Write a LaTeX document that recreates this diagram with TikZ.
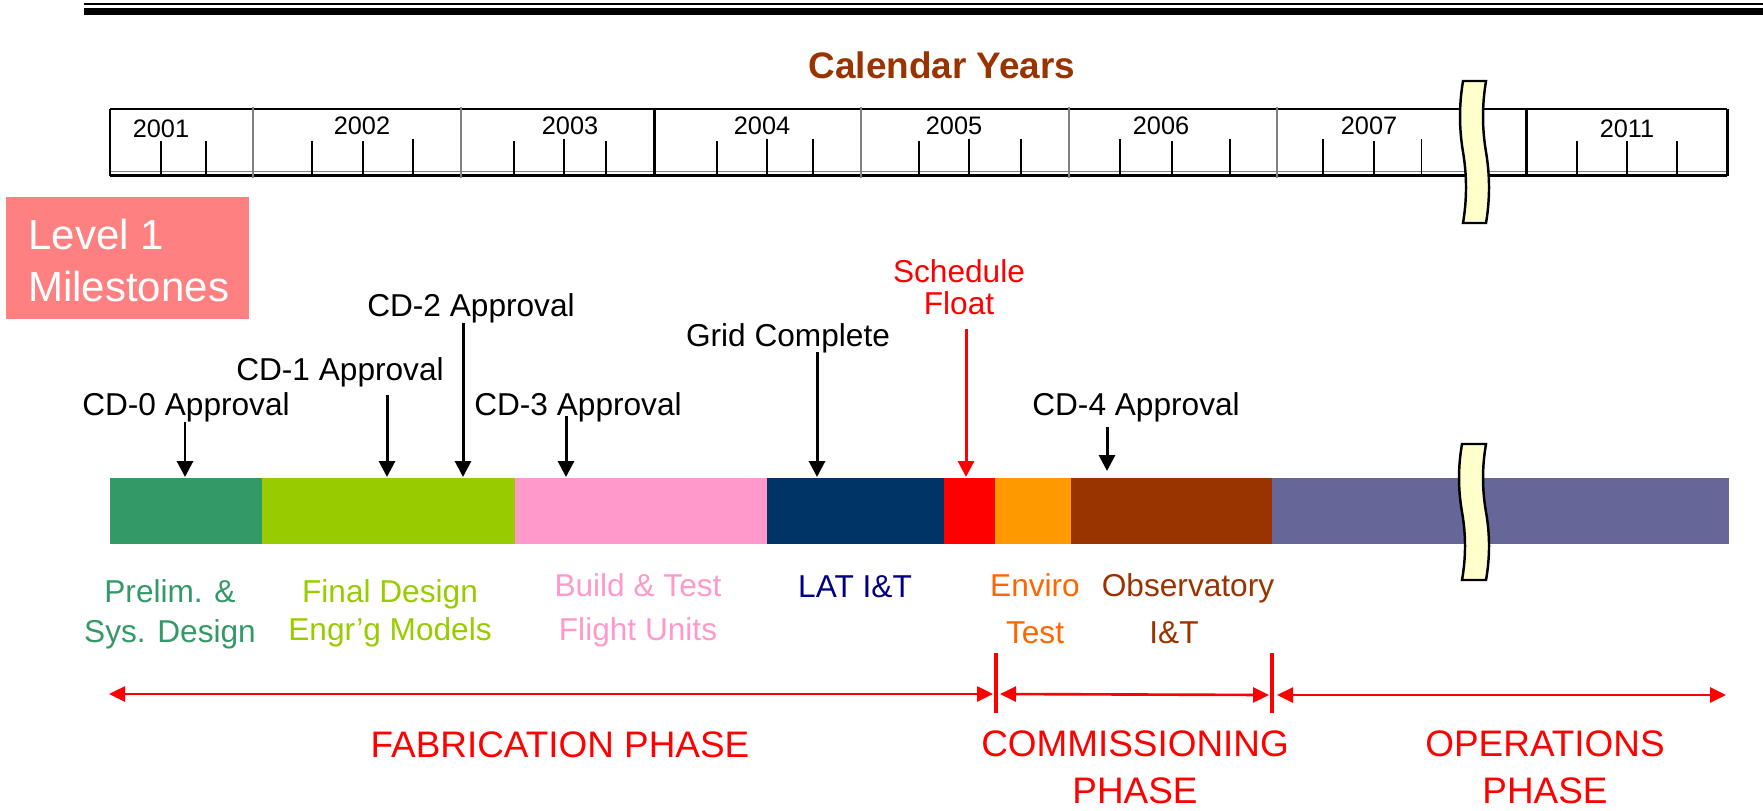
\documentclass[tikz,border=0pt]{standalone}
\usepackage{fontspec}
\setmainfont{Liberation Sans}
\usetikzlibrary{arrows.meta,calc}

\definecolor{yearbrown}{HTML}{993300}
\definecolor{prelimgreen}{HTML}{339966}
\definecolor{finallime}{HTML}{99CC00}
\definecolor{buildpink}{HTML}{FF99CC}
\definecolor{latnavy}{HTML}{003366}
\definecolor{latblue}{HTML}{000080}
\definecolor{enviroorange}{HTML}{FF9900}
\definecolor{envirotext}{HTML}{FF6600}
\definecolor{opspurple}{HTML}{666699}
\definecolor{levelpink}{HTML}{FF8080}
\definecolor{breakyellow}{HTML}{FFFFCC}

\tikzset{
  every picture/.style={line width=0.75pt},
  lbl/.style={inner sep=0pt, anchor=base, align=center, font=\fontsize{9}{11.3}\selectfont},
  yearlbl/.style={inner sep=0pt, anchor=base, font=\fontsize{7.2}{9}\selectfont},
  phaselbl/.style={inner sep=0pt, anchor=base, align=center, text=red, font=\fontsize{10.5}{13.1}\selectfont},
  milestone/.style={line width=0.85pt, -{Triangle[width=1.6mm,length=1.6mm]}},
  phasearrow/.style={red, line width=0.75pt, {Triangle[width=1.5mm,length=1.6mm]}-{Triangle[width=1.5mm,length=1.6mm]}},
  breakbar/.style={fill=breakyellow, draw=black, line width=0.7pt},
}

\begin{document}
\begin{tikzpicture}[x=0.1mm, y=-0.1mm]
    \useasboundingbox (0,0) rectangle (1763,810);

    % header rule
    \draw[line width=0.55pt] (84,4) -- (1763,4);
    \draw[line width=2pt] (84,11.5) -- (1763,11.5);

    % calendar ruler
    \node[inner sep=0pt, anchor=base, text=yearbrown, font=\fontsize{10.5}{13}\selectfont\bfseries] (cal) at (942,78) {Calendar Years};
    \draw[line width=0.85pt] (110,109) -- (1727,109);
    \draw[gray, line width=0.4pt] (110,171.5) -- (1727,171.5);
    \draw[line width=0.9pt] (110,175.5) -- (1727,175.5);
    \draw[line width=0.85pt] (110,109) -- (110,176) (654,109) -- (654,176)
        (1526,109) -- (1526,176) (1727,109) -- (1727,176);
    \foreach \x in {253,461,861,1069,1277}
        \draw[gray, line width=0.3pt] (\x,107) -- (\x,178);
    \foreach \x in {161,206,312,363,514,606,717,919,1172,1374,1577,1627,1677}
        \draw[line width=0.7pt] (\x,141) -- (\x,175);
    \foreach \x in {413,564,767,813,969,1021,1120,1230,1323,1421}
        \draw[line width=0.3pt] (\x,139) -- (\x,175);
    \foreach \x/\b/\yr in {161/137/2001, 362/134/2002, 570/134/2003, 762/134/2004,
                          954/134/2005, 1161/134/2006, 1369/134/2007, 1627/137/2011}
        \node[yearlbl] (y\yr) at (\x,\b) {\yr};

    % break in the time axis
    \draw[breakbar] (1463,81) -- (1486,81)
        .. controls (1482,105) and (1482,128) .. (1486,152)
        .. controls (1490,176) and (1490,199) .. (1486,223)
        -- (1463,223)
        .. controls (1467,199) and (1467,176) .. (1463,152)
        .. controls (1459,128) and (1459,105) .. (1463,81) -- cycle;

    % Level 1 tag
    \fill[levelpink] (6,197) rectangle (249,319);
    \node[inner sep=0pt, anchor=base west, text=white, font=\fontsize{11.95}{14}\selectfont] (lvl) at (27,249) {Level 1};
    \node[inner sep=0pt, anchor=base west, text=white, font=\fontsize{11.95}{14}\selectfont] (mst) at (27,301) {Milestones};

    % phase bar
    \coordinate (bartop) at (0,477);
    \foreach \xa/\xb/\c in {110/262/prelimgreen, 262/515/finallime, 515/767/buildpink,
                            767/944/latnavy, 944/995/red, 995/1071/enviroorange,
                            1071/1272/yearbrown, 1272/1729/opspurple}
        \fill[\c] (\xa,478) rectangle (\xb,544);
    \draw[breakbar] (1462,444) -- (1486,444)
        .. controls (1482,467) and (1482,489) .. (1486,512)
        .. controls (1490,535) and (1490,557) .. (1486,580)
        -- (1462,580)
        .. controls (1466,557) and (1466,535) .. (1462,512)
        .. controls (1458,489) and (1458,467) .. (1462,444) -- cycle;

    % milestones (multi-line nodes sit on their last baseline)
    \node[lbl] (cd0) at (186,415) {CD-0 Approval};
    \node[lbl] (cd1) at (340,380) {CD-1 Approval};
    \node[lbl] (cd2) at (471,316) {CD-2 Approval};
    \node[lbl] (cd3) at (578,415) {CD-3 Approval};
    \node[lbl] (grid) at (788,346) {Grid Complete};
    \node[lbl, text=red] (float) at (959,314) {Schedule\\[-2.2pt]Float};
    \node[lbl] (cd4) at (1136,415) {CD-4 Approval};
    \coordinate (a0) at (185,422);
    \coordinate (a1) at (387,395);
    \coordinate (a2) at (463,323);
    \coordinate (a3) at (566,416);
    \coordinate (ag) at (817,352);
    \coordinate (af) at (966,329);
    \coordinate (a4) at (1107,427);
    \foreach \a in {a0,a1,a2,a3,ag}
        \draw[milestone] (\a) -- (\a |- bartop);
    \draw[milestone, red] (af) -- (af |- bartop);
    \draw[milestone] (a4) -- ($(a4 |- bartop)+(0,-6)$);

    % activity labels
    \node[lbl, text=prelimgreen] (prelim) at (170,642) {Prelim. \&\\Sys. Design};
    \node[lbl, text=finallime] (final) at (390,640) {Final Design\\[-0.5pt]Engr’g Models};
    \node[lbl, text=buildpink] (build) at (638,640) {Build \& Test\\[1pt]Flight Units};
    \node[lbl, text=latblue] (lat) at (855,597) {LAT I\&T};
    \node[lbl, text=envirotext] (enviro) at (1035,643) {Enviro\\[1.8pt]Test};
    \node[lbl, text=yearbrown] (obs) at (1188,643) {Observatory\\[1.8pt]\hspace*{-2.8mm}I\&T};

    % phases
    \coordinate (fabL) at (109,694);
    \coordinate (comL) at (996,694);
    \coordinate (opsL) at (1272,695);
    \coordinate (opsR) at (1726,695);
    \draw[red, line width=1.4pt] ($(comL)+(0,-41)$) -- ($(comL)+(0,19)$)
        ($(opsL)+(0,-42)$) -- ($(opsL)+(0,18)$);
    \draw[phasearrow] (fabL) -- ($(comL)+(-3,0)$);
    \draw[phasearrow] ($(comL)+(4,0)$) -- ($(opsL)+(-3,0)$);
    \draw[phasearrow] ($(opsL)+(5,0)$) -- (opsR);
    \node[phaselbl] (fab) at (560,757) {FABRICATION PHASE};
    \node[phaselbl] (com) at (1135,803) {COMMISSIONING\\PHASE};
    \node[phaselbl] (ops) at (1545,803) {OPERATIONS\\PHASE};
\end{tikzpicture}
\end{document}
